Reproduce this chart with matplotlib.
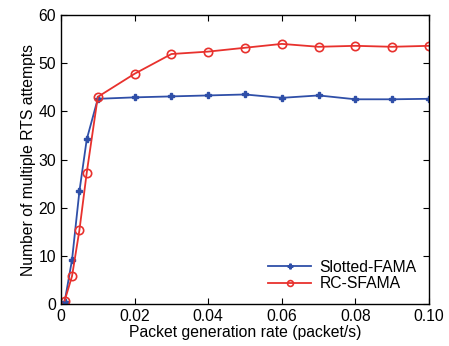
import numpy as np
import matplotlib.pyplot as plt

plt.rcParams['font.family'] = ['Liberation Sans', 'DejaVu Sans']

rate = [0.001, 0.003, 0.005, 0.007, 0.01, 0.02, 0.03, 0.04, 0.05, 0.06, 0.07, 0.08, 0.09, 0.10]
slotted_fama = [0.5, 9.2, 23.4, 34.2, 42.6, 42.9, 43.1, 43.3, 43.5, 42.8, 43.3, 42.5, 42.5, 42.6]
rc_sfama = [0.7, 5.8, 15.3, 27.3, 43.0, 47.8, 51.9, 52.4, 53.2, 54.0, 53.4, 53.6, 53.4, 53.6]

fig = plt.figure(figsize=(4.49, 3.46), dpi=100)
ax = fig.add_axes([61 / 449, 1 - 304 / 346, 368 / 449, 289 / 346])

ax.plot(rate, slotted_fama, color='#2f4fa8', marker='P', markersize=5, lw=1.3,
        label='Slotted-FAMA')
ax.plot(rate, rc_sfama, color='#e8312d', marker='o', markersize=6, mfc='none',
        mew=1.2, lw=1.3, label='RC-SFAMA')

ax.set_xlim(0, 0.1)
ax.set_ylim(0, 60)
ax.set_xticks(np.arange(0, 0.101, 0.02))
ax.set_xticklabels(['0', '0.02', '0.04', '0.06', '0.08', '0.10'])
ax.set_yticks(range(0, 61, 10))
ax.tick_params(direction='in', top=True, right=True, labelsize=11.3, length=4)
for s in ax.spines.values():
    s.set_linewidth(1.0)

ax.set_xlabel('Packet generation rate (packet/s)', fontsize=11.3, labelpad=1)
ax.set_ylabel('Number of multiple RTS attempts', fontsize=11.3, labelpad=2)
ax.legend(loc='lower right', fontsize=11.3, frameon=False, handlelength=2.8,
          borderaxespad=0.4, labelspacing=0.1, handletextpad=0.5, markerscale=0.7)

fig.savefig('out.png', dpi=100)
